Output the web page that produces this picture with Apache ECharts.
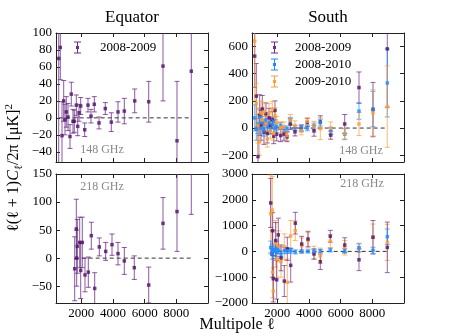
<!DOCTYPE html>
<html>
<head>
<meta charset="utf-8">
<script src="https://cdn.jsdelivr.net/npm/echarts@6/dist/echarts.min.js"></script>
<style>
  html, body { margin: 0; padding: 0; background: #fff; }
  #chart { width: 449px; height: 336px; }
</style>
</head>
<body>
<div id="chart"></div>
<script>
// multipole bin centres
var ell148 = [571, 672, 779, 886, 968, 1051, 1158, 1284, 1366, 1474, 1556, 1682, 1771, 1853, 1960, 2213, 2421, 2611, 2819, 3116, 3514, 3893, 4316, 4714, 5371, 6255, 7158, 8042, 8945]
var ell218 = [1581, 1682, 1707, 1745, 1897, 1960, 2061, 2232, 2440, 2630, 2844, 3135, 3539, 3937, 4316, 4714, 5345, 6255, 7158, 8042, 8945]

// Equator, 2008-2009
var eq148 = [70, 83, -21, 20, -2, 7, 1, -22, 28, -4, -4, 15, -10, 6, 14, -14, 15, 2, 16, -6, 11, -5, 7, 8, 20, 19, 61, -27, 55]
var eq148Err = [130, 38, 40, 24, 18, 18, 16, 14, 14, 14, 13, 12, 11, 10, 10, 8, 8, 8, 9, 7, 7, 11, 12, 15, 14, 24, 41, 70, 120]
var eq218 = [-19, 52, 0, 21, 28, -22, 28, -30, -25, 40, -54, 20, 12, 24, 8, -5, -17, -48, 62, 83, 170]
var eq218Err = [57, 53, 50, 48, 45, 50, 45, 30, 27, 24, 28, 16, 16, 19, 20, 24, 21, 32, 46, 71, 92]

// South 148 GHz
var s148a = [530, 235, -210, 95, 20, 140, -30, 105, -40, 75, 20, 60, -60, 130, -45, -55, -45, -65, 30, -28, -2, 42, -20, 45, -52, 30, 298, 136, 583]
var s148aErr = [230, 240, 220, 150, 110, 100, 90, 80, 70, 70, 60, 60, 55, 70, 50, 45, 45, 35, 40, 30, 25, 30, 40, 45, 30, 70, 115, 200, 430]
var s148b = [75, -10, 30, 80, 0, 40, -20, 60, 10, 35, -15, 25, 50, 0, 10, 20, -5, -5, 54, 0, 0, 0, 15, 40, -20, -45, 125, 140, 332]
var s148bErr = [95, 80, 70, 60, 50, 45, 40, 40, 35, 35, 30, 30, 30, 28, 25, 22, 20, 20, 25, 20, 20, 20, 22, 25, 25, 40, 60, 130, 250]
var s148c = [640, 180, 20, -100, 110, 60, 120, 30, -80, 110, -20, 140, -40, 90, 40, 5, 5, -55, 60, 18, -20, 50, 10, -5, 0, -40, 30, 112, 158]
var s148cErr = [440, 150, 130, 100, 90, 80, 70, 70, 60, 70, 60, 55, 50, 60, 45, 40, 40, 35, 40, 35, 30, 25, 40, 80, 45, 40, 85, 170, 300]

// South 218 GHz
var s218a = [1878, -100, 800, -1060, 420, -1100, 640, -250, -1150, 100, -540, 1095, 285, 480, -100, -400, 587, 247, -325, 548, 157]
var s218aErr = [950, 900, 700, 900, 700, 750, 650, 500, 600, 450, 650, 420, 300, 300, 200, 300, 230, 280, 420, 650, 980]
var s218b = [150, -100, 50, 0, 100, -50, 50, -100, 30, 20, 30, -20, 0, 0, 0, 20, 50, 20, 140, 40, 570]
var s218bErr = [250, 200, 200, 180, 150, 150, 130, 120, 120, 100, 100, 80, 60, 60, 60, 60, 70, 90, 150, 120, 300]
var s218c = [1460, 1600, -800, -1540, 300, -300, 200, -400, 180, -1200, 600, 800, 220, 430, -50, -170, 400, 140, 140, 560, 350]
var s218cErr = [1500, 1300, 1000, 900, 900, 700, 600, 600, 500, 900, 600, 380, 300, 300, 250, 300, 250, 280, 180, 500, 700]

// tick labels
var xTicks = [2000, 4000, 6000, 8000]
var yTicksTL = [-40, -20, 0, 20, 40, 60, 80, 100]
var yTicksTR = [-200, 0, 200, 400, 600]
var yTicksBL = [-50, 0, 50, 100, 150]
var yTicksBR = [-2000, -1000, 0, 1000, 2000, 3000]

var FONT = '"Liberation Serif", serif'
var PURPLE = '#4e1366'
var PURPLE_BAR = '#6e2f88'
var BLUE = '#1f8bff'
var ORANGE = '#ff9c33'
var ERRICON = 'path://M0,0h7v1h-7z M3,1h1v10h-1z M0,11h7v1h-7z M2,4.5h3v3h-3z'

var chart = echarts.init(document.getElementById('chart'))

function fmt (v) {
  return v < 0 ? '\u2212' + Math.abs(v) : String(v)
}

var grids = [
  { left: 56, top: 33, width: 152, height: 129 },
  { left: 252, top: 33, width: 152, height: 129 },
  { left: 56, top: 174, width: 152, height: 129 },
  { left: 252, top: 174, width: 152, height: 129 }
]
var yRanges = [[-52, 100, yTicksTL], [-250, 700, yTicksTR], [-80, 150, yTicksBL], [-2000, 3000, yTicksBR]]

var xAxes = []
var yAxes = []
grids.forEach(function (g, gi) {
  var line = { show: true, onZero: false, lineStyle: { color: '#222', width: 1 } }
  ;['bottom', 'top'].forEach(function (pos) {
    xAxes.push({
      gridIndex: gi, type: 'value', min: 400, max: 10000, position: pos,
      axisLine: line,
      axisTick: { show: true, inside: true, length: 4, customValues: xTicks, lineStyle: { color: '#222' } },
      axisLabel: {
        show: pos === 'bottom' && gi >= 2, customValues: xTicks, margin: 4, formatter: fmt,
        fontFamily: FONT, fontSize: 13, color: '#000'
      },
      splitLine: { show: false }
    })
  })
  var yr = yRanges[gi]
  ;['left', 'right'].forEach(function (pos) {
    yAxes.push({
      gridIndex: gi, type: 'value', min: yr[0], max: yr[1], position: pos,
      axisLine: line,
      axisTick: { show: true, inside: true, length: 4, customValues: yr[2], lineStyle: { color: '#222' } },
      axisLabel: {
        show: pos === 'left', customValues: yr[2], margin: 4, formatter: fmt,
        fontFamily: FONT, fontSize: 13, color: '#000'
      },
      splitLine: { show: false }
    })
  })
})

function errSeries (name, gi, ell, ys, errs, color, alpha) {
  return {
    name: name,
    type: 'custom',
    xAxisIndex: gi * 2,
    yAxisIndex: gi * 2,
    clip: true,
    itemStyle: { color: color },
    data: ell.map(function (l, i) { return [l, ys[i], errs[i]] }),
    encode: { x: 0, y: 1 },
    renderItem: function (params, api) {
      var x = api.value(0)
      var y = api.value(1)
      var e = api.value(2)
      var top = api.coord([x, y + e])
      var bot = api.coord([x, y - e])
      var cap = 2.5
      var st = { stroke: color, lineWidth: 1, opacity: alpha }
      return {
        type: 'group',
        children: [
          { type: 'line', shape: { x1: top[0], y1: top[1], x2: bot[0], y2: bot[1] }, style: st },
          { type: 'line', shape: { x1: top[0] - cap, y1: top[1], x2: top[0] + cap, y2: top[1] }, style: st },
          { type: 'line', shape: { x1: bot[0] - cap, y1: bot[1], x2: bot[0] + cap, y2: bot[1] }, style: st }
        ]
      }
    }
  }
}

function pointSeries (name, gi, ell, ys, color) {
  return {
    name: name,
    type: 'scatter',
    xAxisIndex: gi * 2,
    yAxisIndex: gi * 2,
    symbol: 'rect',
    symbolSize: 3.5,
    clip: true,
    itemStyle: { color: color },
    data: ell.map(function (l, i) { return [l, ys[i]] })
  }
}

function zeroLine (gi, ell) {
  return {
    type: 'line',
    xAxisIndex: gi * 2,
    yAxisIndex: gi * 2,
    symbol: 'none',
    silent: true,
    z: 1,
    lineStyle: { color: '#333', width: 1, type: [4, 3] },
    data: [[ell[0], 0], [ell[ell.length - 1], 0]]
  }
}

var series = [
  zeroLine(0, ell148),
  errSeries('2008-2009', 0, ell148, eq148, eq148Err, PURPLE_BAR, 0.8),
  pointSeries('2008-2009', 0, ell148, eq148, PURPLE),

  zeroLine(1, ell148),
  errSeries('2008-2009', 1, ell148, s148a, s148aErr, PURPLE_BAR, 0.75),
  errSeries('2008-2010', 1, ell148, s148b, s148bErr, BLUE, 0.7),
  errSeries('2009-2010', 1, ell148, s148c, s148cErr, ORANGE, 0.7),
  pointSeries('2008-2009', 1, ell148, s148a, PURPLE),
  pointSeries('2008-2010', 1, ell148, s148b, BLUE),
  pointSeries('2009-2010', 1, ell148, s148c, ORANGE),

  zeroLine(2, ell218),
  errSeries('2008-2009', 2, ell218, eq218, eq218Err, PURPLE_BAR, 0.8),
  pointSeries('2008-2009', 2, ell218, eq218, PURPLE),

  zeroLine(3, ell218),
  errSeries('2009-2010', 3, ell218, s218c, s218cErr, ORANGE, 0.7),
  errSeries('2008-2009', 3, ell218, s218a, s218aErr, PURPLE_BAR, 0.7),
  errSeries('2008-2010', 3, ell218, s218b, s218bErr, BLUE, 0.7),
  pointSeries('2009-2010', 3, ell218, s218c, ORANGE),
  pointSeries('2008-2009', 3, ell218, s218a, PURPLE),
  pointSeries('2008-2010', 3, ell218, s218b, BLUE)
]

var legendText = { fontFamily: FONT, fontSize: 13, color: '#000' }

chart.setOption({
  animation: false,
  backgroundColor: '#fff',
  grid: grids,
  xAxis: xAxes,
  yAxis: yAxes,
  legend: [
    {
      data: ['2008-2009'], left: 74, top: 41, padding: 0, selectedMode: false,
      icon: ERRICON, itemWidth: 7, itemHeight: 13,
      textStyle: Object.assign({ padding: [0, 0, 0, 14] }, legendText)
    },
    {
      data: ['2008-2009', '2008-2010', '2009-2010'], orient: 'vertical',
      left: 271, top: 41, padding: 0, itemGap: 4, selectedMode: false,
      icon: ERRICON, itemWidth: 7, itemHeight: 13,
      textStyle: Object.assign({ padding: [0, 0, 0, 12] }, legendText)
    }
  ],
  graphic: [
    { type: 'text', x: 132, y: 18, style: { text: 'Equator', font: '17px "Liberation Serif"', fill: '#000', textAlign: 'center', textVerticalAlign: 'middle' } },
    { type: 'text', x: 328, y: 18, style: { text: 'South', font: '17px "Liberation Serif"', fill: '#000', textAlign: 'center', textVerticalAlign: 'middle' } },
    { type: 'text', x: 102, y: 150, style: { text: '148 GHz', font: '12px "Liberation Serif"', fill: '#888', textAlign: 'center', textVerticalAlign: 'middle' } },
    { type: 'text', x: 361, y: 151, style: { text: '148 GHz', font: '12px "Liberation Serif"', fill: '#888', textAlign: 'center', textVerticalAlign: 'middle' } },
    { type: 'text', x: 102, y: 187, style: { text: '218 GHz', font: '12px "Liberation Serif"', fill: '#888', textAlign: 'center', textVerticalAlign: 'middle' } },
    { type: 'text', x: 362, y: 184, style: { text: '218 GHz', font: '12px "Liberation Serif"', fill: '#888', textAlign: 'center', textVerticalAlign: 'middle' } },
    { type: 'text', x: 237, y: 325, style: { text: 'Multipole \u2113', font: '16px "Liberation Serif"', fill: '#000', textAlign: 'center', textVerticalAlign: 'middle' } },
    {
      type: 'text', x: 14, y: 168, rotation: Math.PI / 2,
      style: {
        text: '{n|\u2113(\u2113 + 1)}{i|C}{s|\u2113}{n|/2\u03c0 [\u03bcK]}{p|2}',
        fill: '#000', textAlign: 'center', textVerticalAlign: 'middle',
        rich: {
          n: { fontFamily: FONT, fontSize: 16, lineHeight: 21 },
          i: { fontFamily: FONT, fontSize: 16, fontStyle: 'italic', lineHeight: 21 },
          s: { fontFamily: FONT, fontSize: 11, verticalAlign: 'bottom', lineHeight: 21 },
          p: { fontFamily: FONT, fontSize: 11, verticalAlign: 'top', lineHeight: 21 }
        }
      }
    }
  ],
  series: series
})
</script>
</body>
</html>
